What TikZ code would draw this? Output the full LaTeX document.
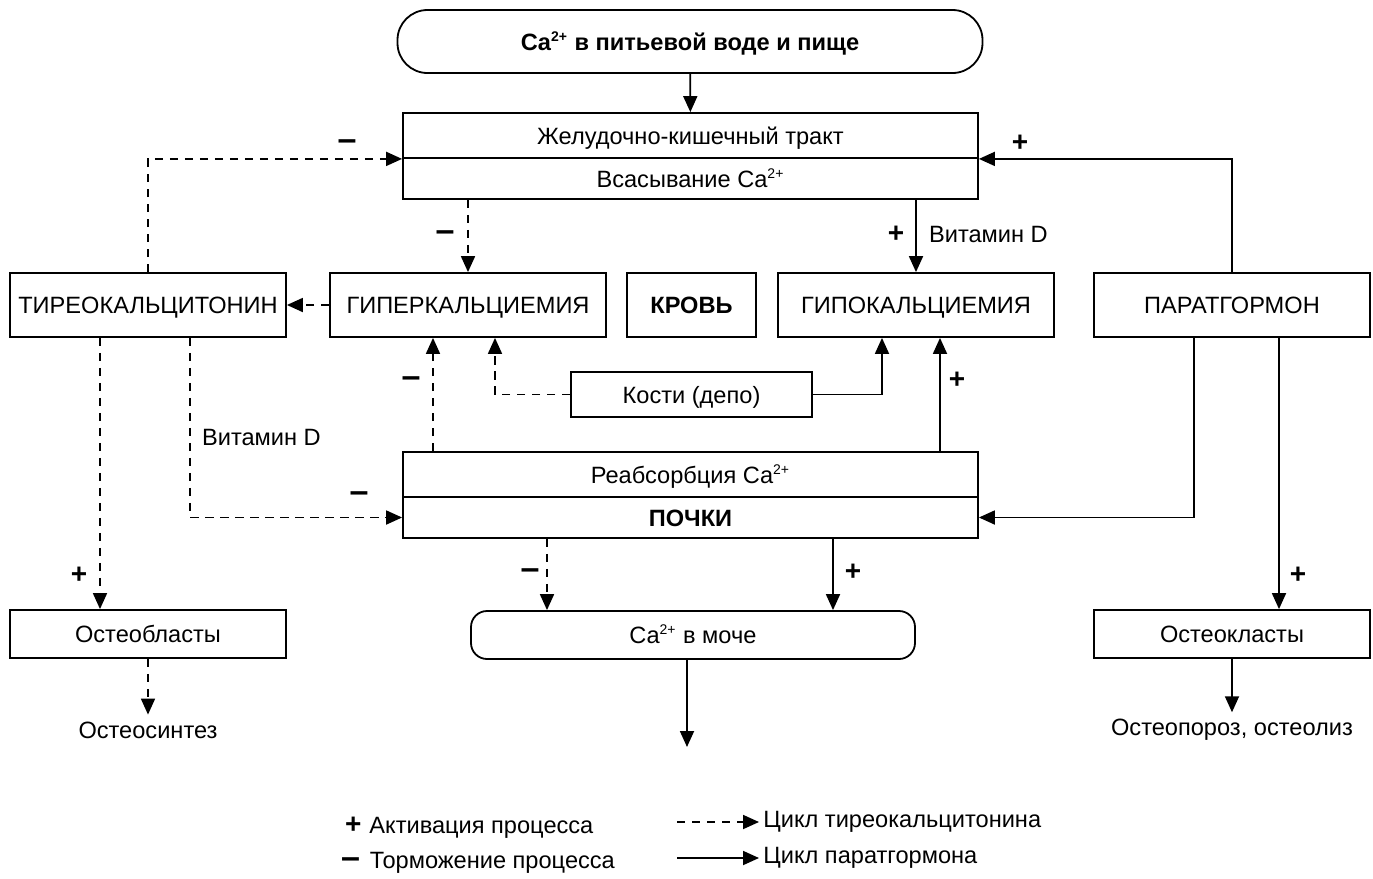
\documentclass[tikz,border=0pt]{standalone}
\usepackage{fontspec}
\setmainfont{Liberation Sans}
\usetikzlibrary{arrows.meta, calc, positioning}
\tikzset{
	every node/.style={font=\fontsize{11.8}{14}\selectfont},
	box/.style={draw, line width=0.9pt, minimum width=138pt, minimum height=32pt, inner sep=0pt, text height=8.5pt, text depth=0pt},
	wide/.style={box, minimum width=287.5pt, minimum height=22.5pt},
	pill/.style={box, rounded corners=#1},
	arr/.style={-{Triangle[length=8pt,width=7pt]}, line width=0.9pt},
	darr/.style={arr, dash pattern=on 4.2pt off 3.3pt},
	sign/.style={font=\fontsize{14}{16}\selectfont\bfseries},
	msign/.style={font=\fontsize{17}{18}\selectfont\bfseries},
}
\newcommand{\ca}{Ca\textsuperscript{\scriptsize 2+}}

\begin{document}
\begin{tikzpicture}[x=0.5pt, y=-0.5pt]
	\useasboundingbox (0,0) rectangle (1373,879);
	
	% sources
	\node[pill=15pt, minimum width=292.5pt, minimum height=31.5pt] (food) at (690,41.5) {\textbf{\ca\ в питьевой воде и пище}};
	\node[wide] (gkt) at (690.5,135.5) {Желудочно-кишечный тракт};
	\node[wide, minimum height=20.5pt] (absorb) at (690.5,178.5) {Всасывание \ca};
	
	% blood row
	\node[box] (thyro) at (148,305) {ТИРЕОКАЛЬЦИТОНИН};
	\node[box] (hyper) at (468,305) {ГИПЕРКАЛЬЦИЕМИЯ};
	\node[box, minimum width=64.5pt] (blood) at (691.5,305) {\textbf{КРОВЬ}};
	\node[box] (hypo) at (916,305) {ГИПОКАЛЬЦИЕМИЯ};
	\node[box] (parat) at (1232,305) {ПАРАТГОРМОН};
	\node[box, minimum width=120.5pt, minimum height=22.5pt] (bones) at (691.5,394.5) {Кости (депо)};
	
	% kidneys
	\node[wide] (reabs) at (690.5,474.5) {Реабсорбция \ca};
	\node[wide, minimum height=20.5pt] (kidney) at (690.5,517.5) {\textbf{ПОЧКИ}};
	
	% outputs
	\node[box, minimum height=24pt] (blasts) at (148,634) {Остеобласты};
	\node[box, minimum height=24pt] (clasts) at (1232,634) {Остеокласты};
	\node[pill=8pt, minimum width=222pt, minimum height=24pt] (urine) at (693,635) {\ca\ в моче};
	\node (synth) at (148,730) {Остеосинтез};
	\node (lysis) at (1232,730) {Остеопороз, остеолиз};
	\coordinate (sink) at (687,747);
	
	% connectors
	\draw[arr] (food) -- (gkt);
	\draw[darr] (thyro.north) |- (gkt.south west);
	\draw[arr] (parat.north) |- (gkt.south east);
	\draw[darr] (absorb.south -| hyper.north) -- (hyper.north);
	\draw[arr] (absorb.south -| hypo.north) -- (hypo.north);
	\draw[darr] (hyper.west) -- (thyro.east);
	\draw[darr] (bones.west) -| ($(hyper.south)+(27,0)$);
	\draw[arr] (bones.east) -| ($(hypo.south)+(-34,0)$);
	\coordinate (hk) at ($(hyper.south)+(-35,0)$);
	\draw[darr] (reabs.north -| hk) -- (hk);
	\coordinate (ok) at ($(hypo.south)+(24,0)$);
	\draw[arr] (reabs.north -| ok) -- (ok);
	\coordinate (tb) at ($(thyro.south)+(-48,0)$);
	\draw[darr] (tb) -- (blasts.north -| tb);
	\draw[darr] ($(thyro.south)+(42,0)$) |- (kidney.west);
	\draw[arr] ($(parat.south)+(-38,0)$) |- (kidney.east);
	\coordinate (pc) at ($(parat.south)+(47,0)$);
	\draw[arr] (pc) -- (clasts.north -| pc);
	\draw[darr] (blasts) -- (synth);
	\draw[arr] (clasts) -- (lysis);
	\coordinate (ku1) at ($(urine.north)+(-146,0)$);
	\coordinate (ku2) at ($(urine.north)+(140,0)$);
	\draw[darr] (kidney.south -| ku1) -- (ku1);
	\draw[arr] (kidney.south -| ku2) -- (ku2);
	\draw[arr] (urine.south -| sink) -- (sink);
	
	% signs
	\node[msign] (m1) at (347,145) {–};
	\node[sign] (p1) at (1020,143) {+};
	\node[msign] (m2) at (445,236) {–};
	\node[sign] (p2) at (896,234) {+};
	\node[anchor=west] (vd1) at (922,234) {Витамин D};
	\node[msign] (m3) at (411,382) {–};
	\node[sign] (p3) at (957,380) {+};
	\node[sign] (p4) at (79,575) {+};
	\node[anchor=west] (vd2) at (195,437) {Витамин D};
	\node[msign] (m4) at (359,497) {–};
	\node[sign] (p5) at (1298,575) {+};
	\node[msign] (m5) at (530,574) {–};
	\node[sign] (p6) at (853,572) {+};
	
	% legend
	\node[anchor=west] (lgplus) at (338,828) {{\fontsize{14}{14}\selectfont\bfseries +}\hspace{4pt}Активация процесса};
	\node[anchor=west] (lgminus) at (334,863) {{\fontsize{17}{14}\selectfont\bfseries –}\hspace{5pt}Торможение процесса};
	\coordinate (lt0) at (677,822);
	\coordinate (lp0) at (677,858);
	\node[anchor=west, inner sep=2pt] (lgthyro) at (759,822) {Цикл тиреокальцитонина};
	\node[anchor=west, inner sep=2pt] (lgparat) at (759,858) {Цикл паратгормона};
	\draw[darr] (lt0) -- (lgthyro.west);
	\draw[arr] (lp0) -- (lgparat.west);
\end{tikzpicture}
\end{document}
